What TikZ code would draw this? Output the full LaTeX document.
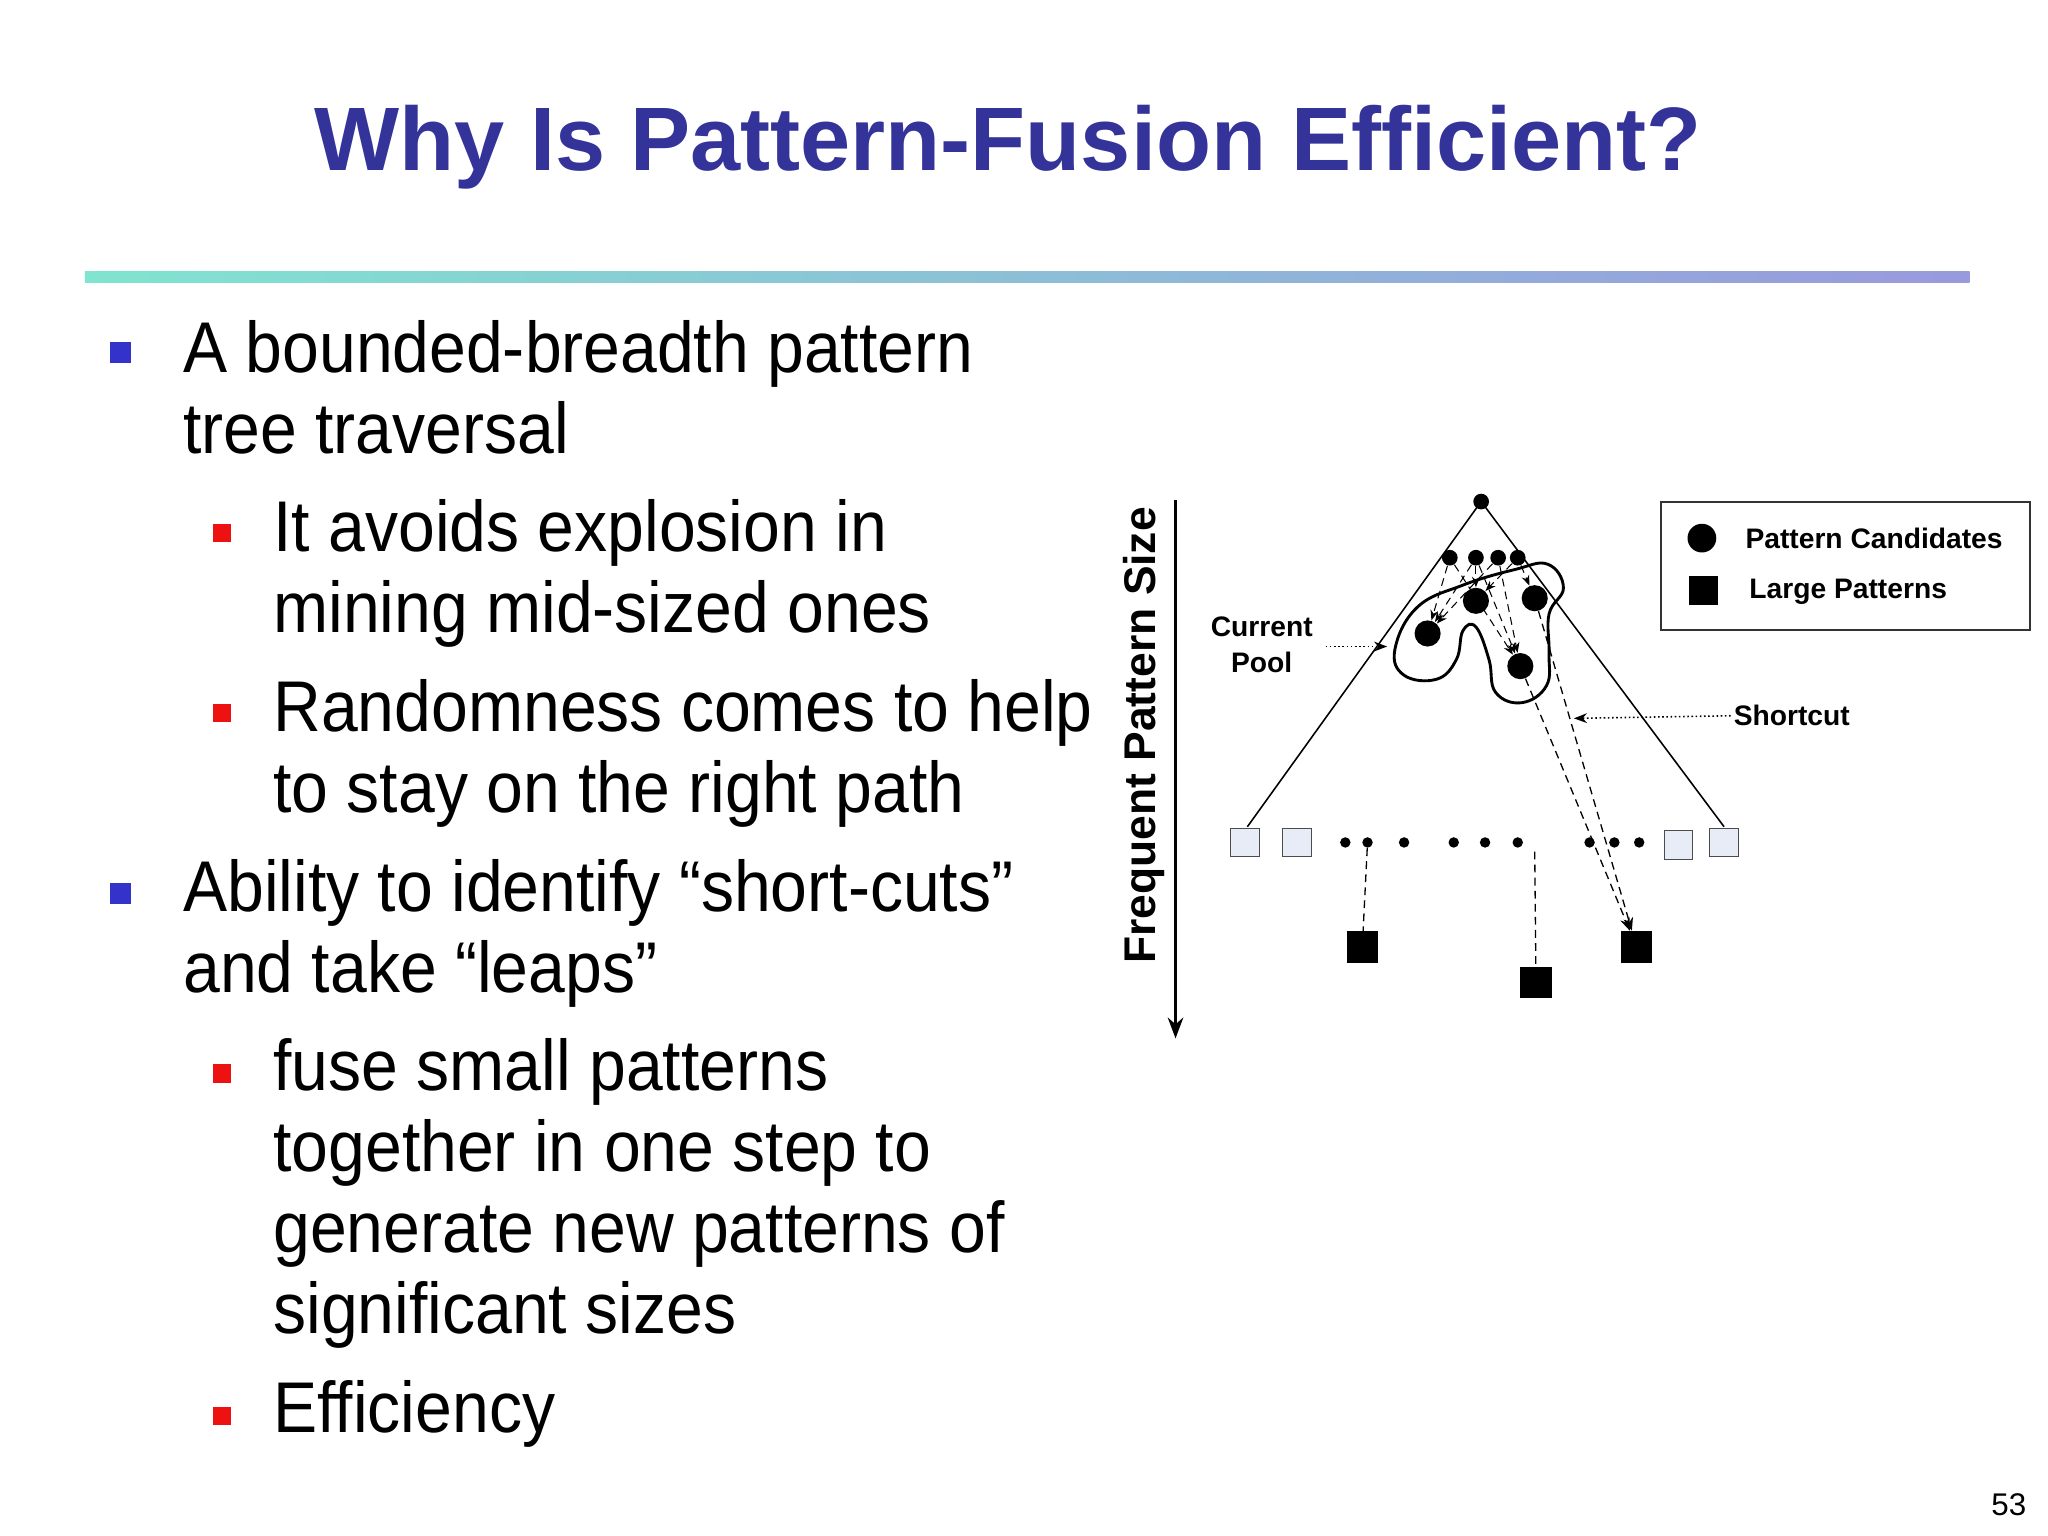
\documentclass[tikz,border=0pt]{standalone}
\usepackage{fontspec}
\setmainfont{Liberation Sans}
\newfontfamily\bodyfont[FakeStretch=0.92]{Liberation Sans}
\usetikzlibrary{arrows.meta,calc}
\definecolor{titleblue}{HTML}{333399}
\definecolor{bblue}{HTML}{3333CC}
\definecolor{bred}{HTML}{EE1111}
\definecolor{lightsq}{HTML}{E8ECF6}
\tikzset{
  body/.style={anchor=base west,inner sep=0pt,font=\bodyfont\fontsize{27.5}{30}\selectfont},
  bsq/.style={fill=bblue,minimum size=8pt,inner sep=0pt},
  rsq/.style={fill=bred,minimum size=7pt,inner sep=0pt},
  dot/.style={circle,fill=black,inner sep=0pt,minimum size=6pt},
  bigdot/.style={circle,fill=black,inner sep=0pt,minimum size=10pt},
  wsq/.style={draw=black!70,fill=lightsq,minimum size=11pt,inner sep=0pt},
  ksq/.style={fill=black,minimum size=12pt,inner sep=0pt},
  lbl/.style={font=\bfseries\fontsize{10.8}{12}\selectfont,inner sep=1pt},
  dsh/.style={densely dashed,-{Stealth[length=5pt]},line width=0.5pt},
  dtt/.style={densely dotted,-{Stealth[length=5pt]},line width=0.6pt}
}
\begin{document}
\begin{tikzpicture}[x=0.5pt,y=-0.5pt]
\useasboundingbox (0,0) rectangle (1568,1176);
\node[font=\bfseries\fontsize{34.5}{40}\selectfont,text=titleblue] (title) at (772,113) {Why Is Pattern-Fusion Efficient?};
\shade[left color={rgb,255:red,128;green,228;blue,208},right color={rgb,255:red,153;green,153;blue,221}] (65,208) rectangle (1508,216);
% text
\node[bsq] (b1) at (92,270) {};
\node[body] (t1) at (140,285) {A bounded-breadth pattern};
\node[body] (t1b) at (140,347) {tree traversal};
\node[rsq] (r1) at (170,408) {};
\node[body] (t2) at (209,422) {It avoids explosion in};
\node[body] (t2b) at (209,484) {mining mid-sized ones};
\node[rsq] (r2) at (170,546) {};
\node[body] (t3) at (209,560) {Randomness comes to help};
\node[body] (t3b) at (209,622) {to stay on the right path};
\node[bsq] (b2) at (92,684) {};
\node[body] (t4) at (140,698) {Ability to identify “short-cuts”};
\node[body] (t4b) at (140,760) {and take “leaps”};
\node[rsq] (r3) at (170,822) {};
\node[body] (t5) at (209,835) {fuse small patterns};
\node[body] (t5b) at (209,897) {together in one step to};
\node[body] (t5c) at (209,959) {generate new patterns of};
\node[body] (t5d) at (209,1021) {significant sizes};
\node[rsq] (r4) at (170,1084) {};
\node[body] (t6) at (209,1097) {Efficiency};
\node[font=\fontsize{12}{14}\selectfont] (pg) at (1538,1152) {53};
% diagram
\coordinate (axtop) at (900,383);
\coordinate (axbot) at (900,795);
\draw[line width=0.8pt,-{Stealth[length=8pt]}] (axtop) -- (axbot);
\node[rotate=90,font=\bfseries\fontsize{17}{20}\selectfont] (axl) at (876,563) {Frequent Pattern Size};
\node[dot] (root) at (1134,384) {};
\coordinate (lft) at (955,633);
\coordinate (rgt) at (1320,633);
\draw[line width=0.6pt] (lft) -- (root.center) -- (rgt);
\node[dot] (d1) at (1110,427) {};
\node[dot] (d2) at (1130,427) {};
\node[dot] (d3) at (1147,427) {};
\node[dot] (d4) at (1162,427) {};
\node[bigdot] (p1) at (1130,460) {};
\node[bigdot] (p2) at (1175,458) {};
\node[bigdot] (p3) at (1093,485) {};
\node[bigdot] (p4) at (1164,510) {};
\draw[line width=1.1pt] plot[smooth cycle,tension=0.7] coordinates {(1068,497) (1085,465) (1120,448) (1160,436) (1185,432) (1197,450) (1186,470) (1186,500) (1184,525) (1165,538) (1145,530) (1140,505) (1130,480) (1120,483) (1115,505) (1100,520) (1075,517)};
\foreach \a/\b in {d1/p3,d2/p3,d3/p3,d2/p1,d4/p1,d1/p4,d3/p4,d4/p2,d2/p4}{\draw[densely dashed,line width=0.4pt,-{Stealth[length=4pt]}] (\a) -- (\b);}
\node[wsq] (s1) at (953,645) {};
\node[wsq] (s2) at (993,645) {};
\node[wsq] (s3) at (1285,647) {};
\node[wsq] (s4) at (1320,645) {};
\foreach \x/\n in {1030/e1,1047/e2,1075/e3,1113/e4,1137/e5,1162/e6,1217/e7,1236/e8,1255/e9}{\node[dot,minimum size=4pt] (\n) at (\x,645) {};}
\node[ksq] (k1) at (1043,725) {};
\node[ksq] (k2) at (1176,752) {};
\node[ksq] (k3) at (1253,725) {};
\coordinate (k2top) at (1175,652);
\draw[densely dashed,line width=0.5pt] (e2) -- (k1);
\draw[densely dashed,line width=0.5pt] (k2top) -- (k2);
\draw[dsh] (p4) -- (k3);
\draw[dsh] (p2) -- (k3);
\node[lbl] (cur) at (966,480) {Current};
\node[lbl] (pool) at (966,507) {Pool};
\coordinate (ca) at (1015,495);
\coordinate (cb) at (1062,495);
\draw[dtt] (ca) -- (cb);
\node[lbl,anchor=west] (sc) at (1325,548) {Shortcut};
\coordinate (sa) at (1205,550);
\draw[dtt] (sc.west) -- (sa);
% legend
\node[draw=black!80,line width=0.8pt,minimum width=141pt,minimum height=49pt,inner sep=0pt] (leg) at (1413,433) {};
\node[circle,fill=black,minimum size=11pt,inner sep=0pt] (lc) at (1303,412) {};
\node[lbl,anchor=west] (lct) at (1334,412) {Pattern Candidates};
\node[fill=black,minimum size=11pt,inner sep=0pt] (ls) at (1304,452) {};
\node[lbl,anchor=west] (lst) at (1337,453) {Large Patterns};
\end{tikzpicture}
\end{document}
